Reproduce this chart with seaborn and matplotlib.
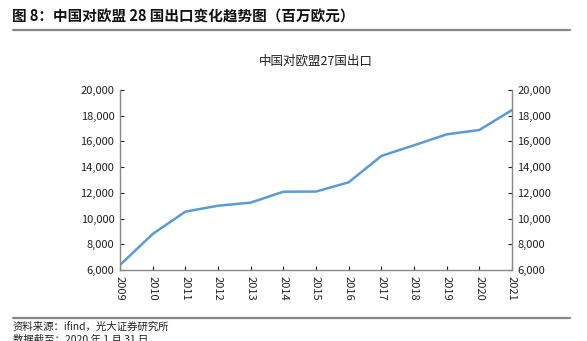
import matplotlib
matplotlib.use("Agg")
import matplotlib.pyplot as plt
import seaborn as sns
import pandas as pd
from matplotlib.ticker import FuncFormatter
from matplotlib.lines import Line2D

years = [2009, 2010, 2011, 2012, 2013, 2014, 2015, 2016, 2017, 2018, 2019, 2020, 2021]
exports = [6390, 8800, 10540, 11000, 11240, 12090, 12100, 12820, 14870, 15700, 16550, 16890, 18440]
series_name = "中国对欧盟27国出口"
title = "图 8：中国对欧盟 28 国出口变化趋势图（百万欧元）"
source = "资料来源：ifind，光大证券研究所"
note = "数据截至：2020 年 1 月 31 日"
yticks = [6000, 8000, 10000, 12000, 14000, 16000, 18000, 20000]

sns.set_style("white")
plt.rcParams['font.family'] = ['Noto Sans CJK SC', 'DejaVu Sans']

df = pd.DataFrame({"year": years, "value": exports})

W, H = 587, 341
fig = plt.figure(figsize=(W / 100, H / 100), dpi=100)
ax = fig.add_axes([120 / W, 1 - 270 / H, (512 - 120) / W, 180 / H])
sns.lineplot(data=df, x="year", y="value", ax=ax, color="#5B9BD5", linewidth=1.8)

ax.set_xlim(years[0], years[-1])
ax.set_ylim(yticks[0], yticks[-1])
ax.set_xticks(years)
ax.set_xticklabels([str(y) for y in years], rotation=-90, fontsize=8, color="#222222")
ax.set_yticks(yticks)
ax.yaxis.set_major_formatter(FuncFormatter(lambda v, p: f"{int(v):,}"))
ax.tick_params(axis="y", labelsize=8, colors="#222222", direction="in", length=3, pad=4,
               left=True, right=True, labelleft=True, labelright=True)
ax.tick_params(axis="x", direction="in", length=3, pad=4, bottom=True, colors="#222222")
for t in ax.get_yticklines() + ax.get_xticklines():
    t.set_color("#888888")
ax.set_xlabel("")
ax.set_ylabel("")
for side in ["left", "right", "bottom"]:
    ax.spines[side].set_visible(True)
    ax.spines[side].set_color("#888888")
    ax.spines[side].set_linewidth(1.0)
ax.spines["top"].set_visible(False)

fig.text(12 / W, 1 - 17 / H, title, fontsize=10.5, fontweight="bold", va="center", ha="left", color="#111111")
fig.add_artist(Line2D([13 / W, 570 / W], [1 - 29.5 / H, 1 - 29.5 / H], color="#888888", linewidth=1.6))
fig.text(316 / W, 1 - 61 / H, series_name, fontsize=9, va="center", ha="center", color="#222222")
fig.add_artist(Line2D([13 / W, 570 / W], [1 - 318 / H, 1 - 318 / H], color="#888888", linewidth=1.6))
fig.text(13 / W, 1 - 327 / H, source, fontsize=7.5, va="center", ha="left", color="#222222")
fig.text(13 / W, 1 - 340 / H, note, fontsize=7.5, va="center", ha="left", color="#222222")

fig.savefig("out.png", dpi=100)
